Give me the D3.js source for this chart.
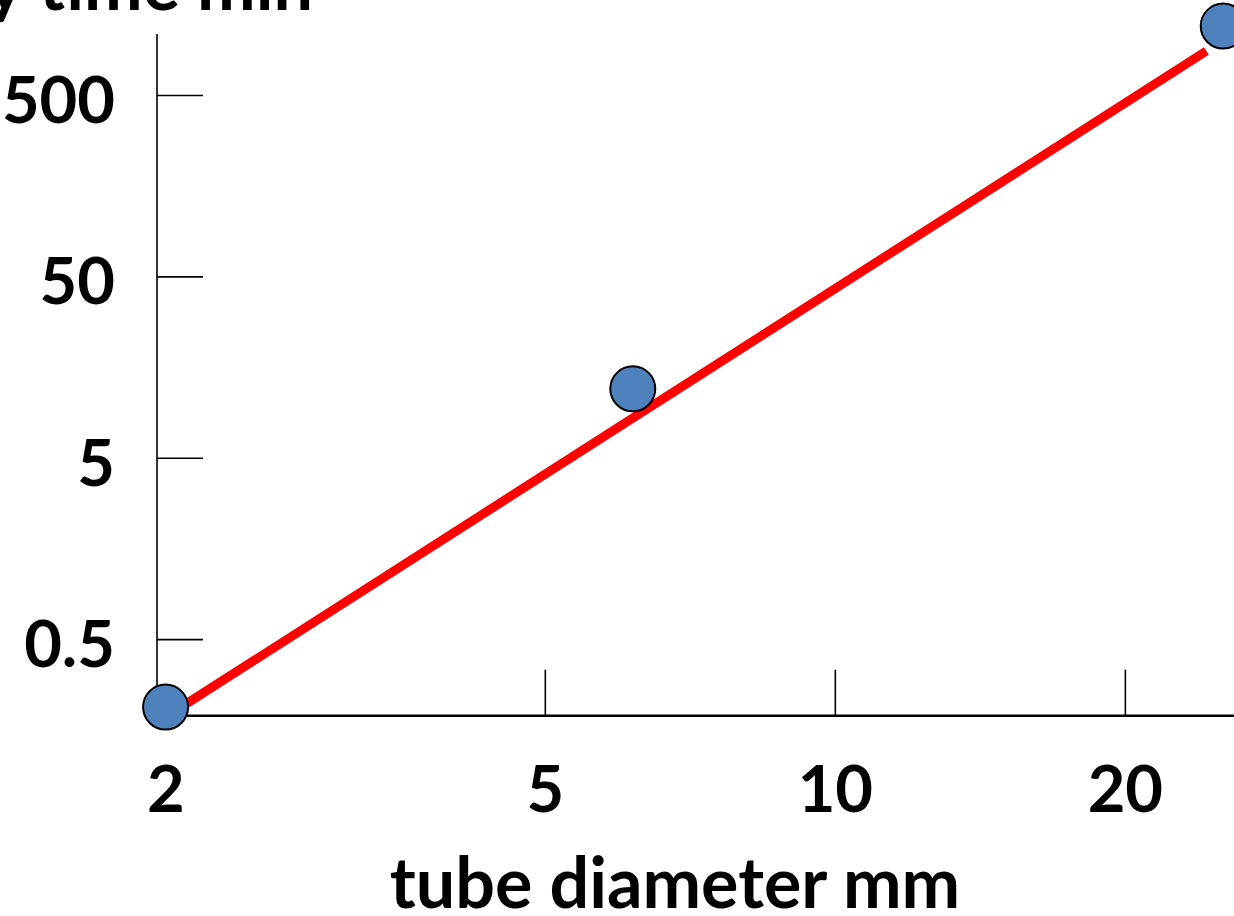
<!DOCTYPE html>
<html>
<head>
<meta charset="utf-8">
<script src="https://cdn.jsdelivr.net/npm/d3@7"></script>
<style>
  html, body { margin: 0; padding: 0; background: #fff; }
  svg { display: block; }
  text { font-family: Lato, "Open Sans", sans-serif; font-weight: 700; fill: #000; }
</style>
</head>
<body>
<svg id="chart" width="1234" height="916"></svg>
<script>
// ---- data ----
const diameters = [2.02, 6.17, 25.3];         // tube diameter, mm
const times = [0.211, 12.0, 1200];            // time, min
const fitDiameters = [2.1, 24.3];             // fitted line endpoints (x)
const fitTimes = [0.212, 874];                // fitted line endpoints (y)
const xTicks = [2, 5, 10, 20];
const yTicks = [0.5, 5, 50, 500];
const xTitle = "tube diameter mm";
const yTitle = "delay time min";

const svg = d3.select("#chart");

const x = d3.scaleLog().domain([1.979, 25.96]).range([157, 1234]);
const y = d3.scaleLog().domain([0.189, 1085]).range([715.7, 34]);

// axes
const yAxis = d3.axisLeft(y).tickValues(yTicks).tickFormat(d3.format("~g"))
  .tickSizeInner(-46).tickSizeOuter(0).tickPadding(42);
const gy = svg.append("g").attr("transform", "translate(157,0)").call(yAxis);
gy.select(".domain").remove();
gy.selectAll(".tick line").attr("stroke", "#000").attr("stroke-width", 1.6);
gy.selectAll(".tick text").attr("font-size", 65).attr("dy", "0.42em")
  .style("font-family", "Lato, sans-serif").style("font-weight", 700).attr("fill", "#000");

const xAxis = d3.axisBottom(x).tickValues(xTicks).tickFormat(d3.format("~g"))
  .tickSizeInner(-46).tickSizeOuter(0).tickPadding(50);
const gx = svg.append("g").attr("transform", "translate(0,715.7)").call(xAxis);
gx.select(".domain").remove();
gx.selectAll(".tick line").attr("stroke", "#000").attr("stroke-width", 1.6)
  .attr("display", d => d === xTicks[0] ? "none" : null);
gx.selectAll(".tick text").attr("font-size", 65)
  .style("font-family", "Lato, sans-serif").style("font-weight", 700).attr("fill", "#000");
gx.selectAll(".tick").filter(d => d === xTicks[0]).select("text").attr("dx", 4);

// axis lines
svg.append("line").attr("x1", 157).attr("x2", 157)
  .attr("y1", y.range()[1]).attr("y2", y.range()[0])
  .attr("stroke", "#000").attr("stroke-width", 1.6);
svg.append("line").attr("x1", x.range()[0]).attr("x2", x.range()[1])
  .attr("y1", 715.7).attr("y2", 715.7)
  .attr("stroke", "#000").attr("stroke-width", 2.6);

// fit line
const fit = fitDiameters.map((d, i) => [d, fitTimes[i]]);
svg.append("path").datum(fit)
  .attr("d", d3.line().x(d => x(d[0])).y(d => y(d[1])))
  .attr("fill", "none").attr("stroke", "#ff0000").attr("stroke-width", 9)
  .attr("stroke-linecap", "butt");

// points
svg.selectAll("circle.pt").data(diameters.map((d, i) => [d, times[i]]))
  .join("circle").attr("class", "pt")
  .attr("cx", d => x(d[0])).attr("cy", d => y(d[1])).attr("r", 22.5)
  .attr("fill", "#4f81bd").attr("stroke", "#000").attr("stroke-width", 2);

// titles
svg.append("text").attr("x", 675).attr("y", 908).attr("text-anchor", "middle")
  .attr("font-size", 70).text(xTitle);
svg.append("text").attr("x", 313).attr("y", 10).attr("text-anchor", "end")
  .attr("font-size", 70).text(yTitle);
</script>
</body>
</html>
